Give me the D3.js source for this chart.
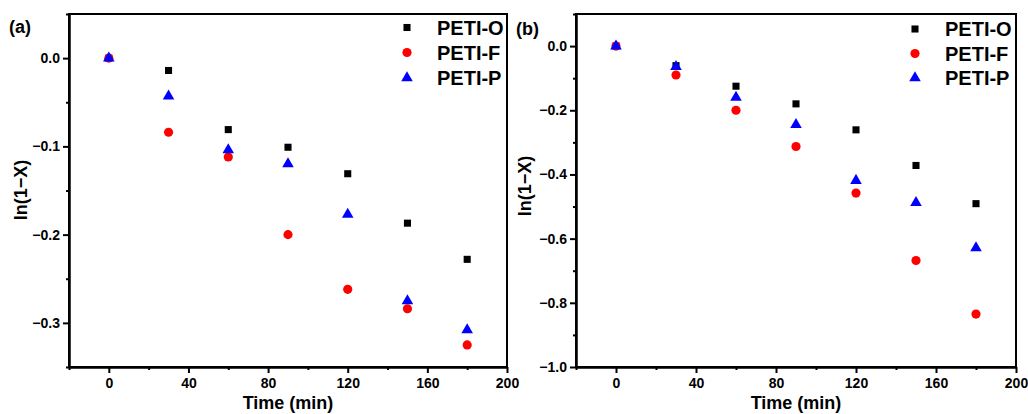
<!DOCTYPE html>
<html>
<head>
<meta charset="utf-8">
<script src="https://cdn.jsdelivr.net/npm/d3@7"></script>
<style>
  body { margin: 0; background: #fff; }
  svg { display: block; font-family: "Liberation Sans", Arial, sans-serif; font-weight: bold; }
</style>
</head>
<body>
<div id="container"></div>
<script>
var width = 1028;
var height = 414;

// data
var times = [0, 30, 60, 90, 120, 150, 180];
var seriesNames = ["PETI-O", "PETI-F", "PETI-P"];
var seriesColors = ["#000000", "#ff0000", "#0000ff"];

// panel (a)
var aO = [0, -0.014, -0.081, -0.101, -0.131, -0.187, -0.228];
var aF = [0, -0.084, -0.112, -0.200, -0.262, -0.284, -0.325];
var aP = [0, -0.043, -0.104, -0.120, -0.177, -0.275, -0.308];

// panel (b)
var bO = [0, -0.061, -0.125, -0.180, -0.261, -0.372, -0.491];
var bF = [0, -0.090, -0.200, -0.313, -0.458, -0.668, -0.835];
var bP = [0, -0.064, -0.160, -0.245, -0.419, -0.488, -0.629];

var xMajor = [0, 40, 80, 120, 160, 200];
var xMinor = [-20, 20, 60, 100, 140, 180];
var aYMajor = [0, -0.1, -0.2, -0.3];
var aYMinor = [0.05, -0.05, -0.15, -0.25, -0.35];
var bYMajor = [0, -0.2, -0.4, -0.6, -0.8, -1.0];
var bYMinor = [0.1, -0.1, -0.3, -0.5, -0.7, -0.9];

var svg = d3.select("#container").append("svg")
  .attr("width", width)
  .attr("height", height);

var symbols = [d3.symbolSquare, d3.symbolCircle, d3.symbolTriangle];
var symbolSizes = [50, 66, 58];

function drawPanel(p) {
  var x = d3.scaleLinear().domain([-20, 200]).range([p.left, p.right]);
  var y = d3.scaleLinear().domain(p.yDomain).range([p.bottom, p.top]);
  var g = svg.append("g");

  // minor ticks
  g.append("g")
    .attr("transform", "translate(0," + p.bottom + ")")
    .call(d3.axisBottom(x).tickValues(xMinor).tickSize(3).tickSizeOuter(0).tickFormat(""))
    .call(styleAxis);
  g.append("g")
    .attr("transform", "translate(" + p.left + ",0)")
    .call(d3.axisLeft(y).tickValues(p.yMinor).tickSize(3).tickSizeOuter(0).tickFormat(""))
    .call(styleAxis);

  // major ticks
  g.append("g")
    .attr("transform", "translate(0," + p.bottom + ")")
    .call(d3.axisBottom(x).tickValues(xMajor).tickSize(6).tickSizeOuter(0).tickPadding(5).tickFormat(d3.format("d")))
    .call(styleAxis);
  g.append("g")
    .attr("transform", "translate(" + p.left + ",0)")
    .call(d3.axisLeft(y).tickValues(p.yMajor).tickSize(6).tickSizeOuter(0).tickPadding(3).tickFormat(d3.format(".1f")))
    .call(styleAxis);

  // frame
  g.append("rect")
    .attr("x", p.left).attr("y", p.top)
    .attr("width", p.right - p.left).attr("height", p.bottom - p.top)
    .attr("fill", "none").attr("stroke", "#000").attr("stroke-width", 2);

  // points
  p.series.forEach(function(vals, i) {
    g.append("g").selectAll("path")
      .data(vals)
      .enter().append("path")
      .attr("d", d3.symbol().type(symbols[i]).size(symbolSizes[i]))
      .attr("transform", function(d, j) { return "translate(" + x(times[j]) + "," + y(d) + ")"; })
      .attr("fill", seriesColors[i]);
  });

  // legend
  seriesNames.forEach(function(name, i) {
    g.append("path")
      .attr("d", d3.symbol().type(symbols[i]).size(symbolSizes[i]))
      .attr("transform", "translate(" + p.legendX + "," + p.legendY[i] + ")")
      .attr("fill", seriesColors[i]);
    g.append("text")
      .attr("x", p.legendX + 30).attr("y", p.legendY[i])
      .attr("dy", "0.36em")
      .attr("font-size", 20)
      .text(name);
  });

  // axis titles
  g.append("text")
    .attr("x", (x(-20) + x(200)) / 2).attr("y", 409)
    .attr("text-anchor", "middle")
    .attr("font-size", 18)
    .text("Time (min)");
  g.append("text")
    .attr("transform", "translate(" + p.yTitleX + "," + p.yTitleY + ") rotate(-90)")
    .attr("text-anchor", "middle")
    .attr("dy", "0.36em")
    .attr("font-size", 18)
    .text("ln(1\u2212X)");

  // panel label
  g.append("text")
    .attr("x", p.labelX).attr("y", p.labelY)
    .attr("font-size", 18)
    .text(p.label);
}

function styleAxis(sel) {
  sel.select(".domain").attr("stroke-width", 2);
  sel.selectAll(".tick line").attr("stroke-width", 2);
  sel.selectAll(".tick text")
    .attr("font-size", 14)
    .attr("font-family", "Liberation Sans, Arial, sans-serif")
    .attr("font-weight", "bold")
    .attr("fill", "#000");
}

drawPanel({
  left: 69, right: 507, top: 14, bottom: 367,
  yDomain: [-0.35, 0.05], yMajor: aYMajor, yMinor: aYMinor,
  series: [aO, aF, aP],
  legendX: 407, legendY: [27.5, 52.5, 78],
  yTitleX: 21, yTitleY: 190,
  label: "(a)", labelX: 9, labelY: 33
});

drawPanel({
  left: 576, right: 1016, top: 14, bottom: 367,
  yDomain: [-1.0, 0.1], yMajor: bYMajor, yMinor: bYMinor,
  series: [bO, bF, bP],
  legendX: 915, legendY: [29, 53.5, 78],
  yTitleX: 525, yTitleY: 186,
  label: "(b)", labelX: 516, labelY: 35
});
</script>
</body>
</html>
